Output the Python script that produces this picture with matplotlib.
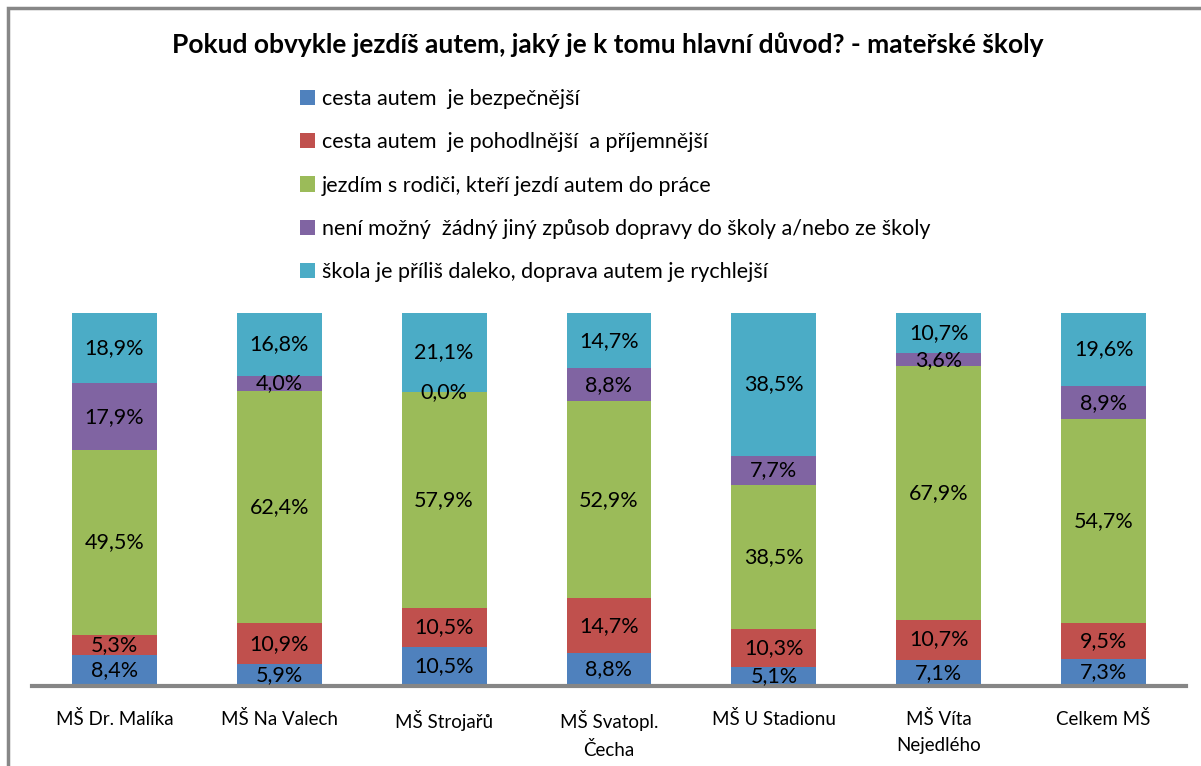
import matplotlib
matplotlib.use("Agg")
import matplotlib.pyplot as plt
from matplotlib.patches import Rectangle, Patch
import numpy as np

plt.rcParams['font.family'] = ['Lato', 'DejaVu Sans']

categories = ["MŠ Dr. Malíka", "MŠ Na Valech", "MŠ Strojařů", "MŠ Svatopl.\nČecha",
              "MŠ U Stadionu", "MŠ Víta\nNejedlého", "Celkem MŠ"]
series_names = [
    "cesta autem  je bezpečnější",
    "cesta autem  je pohodlnější  a příjemnější",
    "jezdím s rodiči, kteří jezdí autem do práce",
    "není možný  žádný jiný způsob dopravy do školy a/nebo ze školy",
    "škola je příliš daleko, doprava autem je rychlejší",
]
bezpecnejsi = [8.4, 5.9, 10.5, 8.8, 5.1, 7.1, 7.3]
pohodlnejsi = [5.3, 10.9, 10.5, 14.7, 10.3, 10.7, 9.5]
s_rodici = [49.5, 62.4, 57.9, 52.9, 38.5, 67.9, 54.7]
neni_mozny = [17.9, 4.0, 0.0, 8.8, 7.7, 3.6, 8.9]
daleko = [18.9, 16.8, 21.1, 14.7, 38.5, 10.7, 19.6]
colors = ["#4F81BD", "#C0504D", "#9BBB59", "#8064A2", "#4BACC6"]

W, H = 1201, 766
fig = plt.figure(figsize=(W / 100, H / 100), dpi=100)
ax = fig.add_axes([32 / W, (H - 686) / H, (1186 - 32) / W, (686 - 313) / H])

x = np.arange(len(categories))
bottom = np.zeros(len(categories))
handles = []
for vals, col, name in zip([bezpecnejsi, pohodlnejsi, s_rodici, neni_mozny, daleko], colors, series_names):
    vals = np.array(vals)
    ax.bar(x, vals, width=0.515, bottom=bottom, color=col, edgecolor="none")
    for xi, b, v in zip(x, bottom, vals):
        ax.text(xi, b + v / 2, f"{v:.1f}%".replace(".", ","), ha="center", va="center",
                fontsize=15.5, color="black")
    bottom += vals
    handles.append(Patch(facecolor=col, edgecolor="none", label=name))

ax.set_xlim(-0.5, len(categories) - 0.5)
ax.set_ylim(0, 100)
for s in ["top", "right", "left"]:
    ax.spines[s].set_visible(False)
ax.spines["bottom"].set_color("#868686")
ax.spines["bottom"].set_linewidth(3)
ax.set_yticks([])
ax.set_xticks(x)
ax.set_xticklabels(categories, fontsize=13.5, linespacing=1.7, va="top")
ax.tick_params(axis="x", length=0, pad=17)

fig.text(608 / W, 1 - 45 / H, "Pokud obvykle jezdíš autem, jaký je k tomu hlavní důvod? - mateřské školy",
         ha="center", va="center", fontsize=19, fontweight="bold")

fig.legend(handles=handles, loc="upper left", bbox_to_anchor=(300 / W, 1 - 89 / H),
           frameon=False, fontsize=15.5, labelspacing=1.08, handlelength=0.7,
           handleheight=0.7, handletextpad=0.33, borderpad=0, borderaxespad=0)

# gray frame (top and left edges visible)
fig.patches.append(Rectangle((8 / W, -0.1), 1.2, 1 - 8 / H + 0.1, transform=fig.transFigure,
                             fill=False, edgecolor="#878787", linewidth=2.5))

fig.savefig("out.png", dpi=100, facecolor="white")
